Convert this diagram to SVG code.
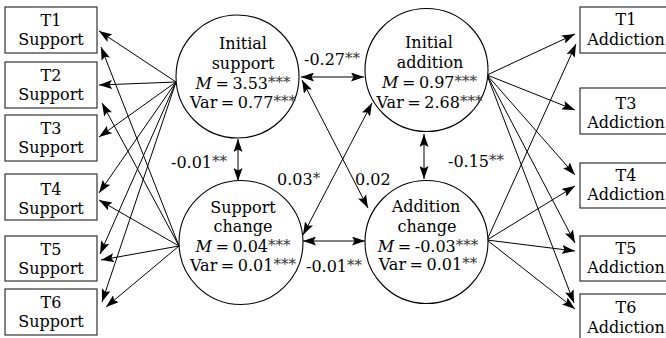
<svg xmlns="http://www.w3.org/2000/svg" width="666" height="338" viewBox="0 0 666 338">
<defs>
<marker id="ah" markerUnits="userSpaceOnUse" markerWidth="13" markerHeight="9" refX="13" refY="4.5" orient="auto-start-reverse" viewBox="0 0 13 9">
<path d="M0,0 L13,4.5 L0,9 L2.5,4.5 z" fill="#000"/>
</marker>
</defs>
<style>
text{font-family:"DejaVu Serif","Liberation Serif",serif;font-size:16px;fill:#000}
.c{text-anchor:middle}
.eq{word-spacing:-1.5px}
.st{font-size:15px;fill:#333}
.box{fill:#fff;stroke:#333;stroke-width:1.2}
.lat{fill:#fff;stroke:#000;stroke-width:1.1}
.ln{fill:none;stroke:#000;stroke-width:1;marker-end:url(#ah)}
.dl{fill:none;stroke:#000;stroke-width:1;marker-start:url(#ah);marker-end:url(#ah)}
</style>
<rect width="666" height="338" fill="#fff"/>

<g id="connectors">
<path class="ln" d="M176,82 L99,31"/>
<path class="ln" d="M176,82 L99,85"/>
<path class="ln" d="M176,82 L99,137"/>
<path class="ln" d="M176,82 L99,193"/>
<path class="ln" d="M176,82 L100,254"/>
<path class="ln" d="M176,82 L102,302"/>
<path class="ln" d="M179,246 L101,47"/>
<path class="ln" d="M179,246 L102,103"/>
<path class="ln" d="M179,246 L99,200"/>
<path class="ln" d="M179,246 L101,260"/>
<path class="ln" d="M179,246 L106,307"/>
<path class="ln" d="M487,75 L575,34"/>
<path class="ln" d="M487,75 L575,110"/>
<path class="ln" d="M487,75 L575,175"/>
<path class="ln" d="M487,75 L575,243"/>
<path class="ln" d="M487,75 L574,303"/>
<path class="ln" d="M487,240 L576,44"/>
<path class="ln" d="M487,240 L575,186"/>
<path class="ln" d="M487,240 L575,251"/>
<path class="ln" d="M487,240 L575,309"/>
<path class="dl" d="M238,139 L238,181"/>
<path class="dl" d="M424,134 L424,179"/>
<path class="dl" d="M301,77 L364,77"/>
<path class="dl" d="M303,241 L365,241"/>
<path class="dl" d="M302,80 L368,208"/>
<path class="dl" d="M303,235 L372,103"/>
<text x="304" y="65">-0.27<tspan class="st" dy="-2">**</tspan></text>
<text x="171" y="168">-0.01<tspan class="st" dy="-2">**</tspan></text>
<text x="277" y="185">0.03<tspan class="st" dy="-2">*</tspan></text>
<text x="355" y="185">0.02</text>
<text x="448" y="167">-0.15<tspan class="st" dy="-2">**</tspan></text>
<text x="306" y="272">-0.01<tspan class="st" dy="-2">**</tspan></text>
</g>

<g id="t1s"><rect class="box" x="5" y="7" width="92" height="46"/><text class="c" x="51" y="26">T1</text><text class="c" x="51" y="45">Support</text></g>
<g id="t2s"><rect class="box" x="5" y="62" width="92" height="46"/><text class="c" x="51" y="81">T2</text><text class="c" x="51" y="100">Support</text></g>
<g id="t3s"><rect class="box" x="5" y="115" width="92" height="46"/><text class="c" x="51" y="134">T3</text><text class="c" x="51" y="153">Support</text></g>
<g id="t4s"><rect class="box" x="5" y="174" width="92" height="46"/><text class="c" x="51" y="195">T4</text><text class="c" x="51" y="214">Support</text></g>
<g id="t5s"><rect class="box" x="5" y="236" width="92" height="45"/><text class="c" x="51" y="255">T5</text><text class="c" x="51" y="274">Support</text></g>
<g id="t6s"><rect class="box" x="5" y="289" width="92" height="46"/><text class="c" x="51" y="308">T6</text><text class="c" x="51" y="327">Support</text></g>

<g id="t1a"><rect class="box" x="580" y="7" width="92" height="46"/><text class="c" x="626" y="25">T1</text><text class="c" x="626" y="45">Addiction</text></g>
<g id="t3a"><rect class="box" x="580" y="88" width="92" height="46"/><text class="c" x="626" y="109">T3</text><text class="c" x="626" y="128">Addiction</text></g>
<g id="t4a"><rect class="box" x="580" y="163" width="92" height="45"/><text class="c" x="626" y="181">T4</text><text class="c" x="626" y="200">Addiction</text></g>
<g id="t5a"><rect class="box" x="580" y="236" width="92" height="45"/><text class="c" x="626" y="254">T5</text><text class="c" x="626" y="273">Addiction</text></g>
<g id="t6a"><rect class="box" x="580" y="294" width="92" height="46"/><text class="c" x="626" y="313">T6</text><text class="c" x="626" y="333">Addiction</text></g>

<g id="initial-support">
<circle class="lat" cx="237.5" cy="76.5" r="61.5"/>
<text class="c" x="243" y="49">Initial</text>
<text class="c" x="243" y="69">support</text>
<text class="c eq" x="243" y="89"><tspan font-style="italic">M</tspan> = 3.53<tspan class="st" dy="-2">***</tspan></text>
<text class="c eq" x="243" y="108">Var = 0.77<tspan class="st" dy="-2">***</tspan></text>
</g>
<g id="support-change">
<circle class="lat" cx="241" cy="242.5" r="62"/>
<text class="c" x="243" y="213">Support</text>
<text class="c" x="243" y="232">change</text>
<text class="c eq" x="243" y="252"><tspan font-style="italic">M</tspan> = 0.04<tspan class="st" dy="-2">***</tspan></text>
<text class="c eq" x="243" y="271">Var = 0.01<tspan class="st" dy="-2">***</tspan></text>
</g>
<g id="initial-addition">
<circle class="lat" cx="426.5" cy="70" r="61.5"/>
<text class="c" x="429" y="48">Initial</text>
<text class="c" x="430" y="68">addition</text>
<text class="c eq" x="429.5" y="88"><tspan font-style="italic">M</tspan> = 0.97<tspan class="st" dy="-2">***</tspan></text>
<text class="c eq" x="429.5" y="108">Var = 2.68<tspan class="st" dy="-2">***</tspan></text>
</g>
<g id="addition-change">
<circle class="lat" cx="426.5" cy="242" r="61.5"/>
<text class="c" x="426" y="212">Addition</text>
<text class="c" x="427" y="232">change</text>
<text class="c eq" x="428" y="252"><tspan font-style="italic">M</tspan> = -0.03<tspan class="st" dy="-2">***</tspan></text>
<text class="c eq" x="428" y="270">Var = 0.01<tspan class="st" dy="-2">**</tspan></text>
</g>
</svg>
